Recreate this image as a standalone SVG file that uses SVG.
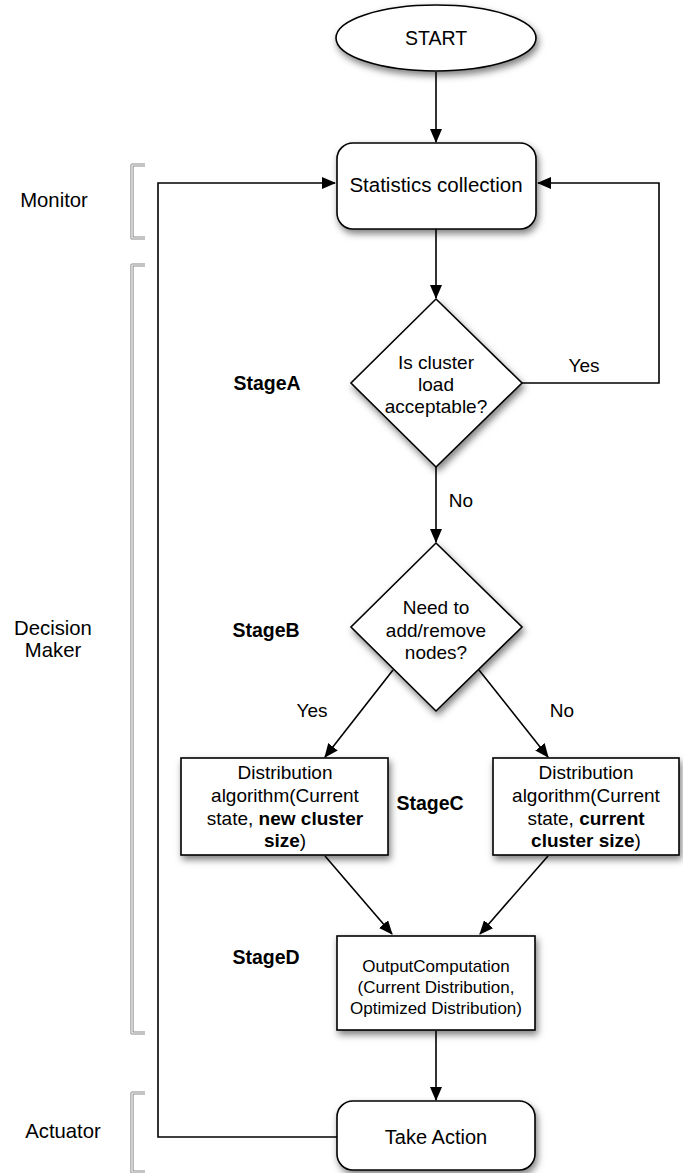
<svg xmlns="http://www.w3.org/2000/svg" width="683" height="1173" viewBox="0 0 683 1173">
<style>
text{font-family:"Liberation Sans",Arial,sans-serif;font-size:19px;fill:#000;text-anchor:middle}
.b{font-weight:bold}
.stage{font-weight:bold;font-size:19.5px}
.side{font-size:20.3px}
.small{font-size:17px}
.big{font-size:20.5px}
.node{fill:#fff;stroke:#000;stroke-width:1.6;filter:url(#sh)}
.edge{fill:none;stroke:#000;stroke-width:1.6}
.arr{marker-end:url(#ah)}
.brk-o{fill:none;stroke:#888;stroke-width:3.2;stroke-linejoin:round}
.brk-i{fill:none;stroke:#fff;stroke-width:1.2}
</style>
<defs>
<filter id="sh" x="-20%" y="-20%" width="150%" height="160%">
<feDropShadow dx="2" dy="4" stdDeviation="3.5" flood-color="#000" flood-opacity="0.5"/>
</filter>
<marker id="ah" markerUnits="userSpaceOnUse" markerWidth="14" markerHeight="12" refX="13" refY="6" orient="auto">
<path d="M0,0 L14,6 L0,12 Z" fill="#000"/>
</marker>
</defs>
<rect width="683" height="1173" fill="#fff"/>

<g id="brackets">
<path class="brk-o" d="M145,165 H132 V238 H145"/>
<path class="brk-i" d="M145,165 H132 V238 H145"/>
<path class="brk-o" d="M145,265 H132 V1033 H145"/>
<path class="brk-i" d="M145,265 H132 V1033 H145"/>
<path class="brk-o" d="M145,1093 H132 V1172 H145"/>
<path class="brk-i" d="M145,1093 H132 V1172 H145"/>
</g>

<g id="side-labels">
<text class="side" x="54" y="207">Monitor</text>
<text class="side" x="53" y="635">Decision</text>
<text class="side" x="53" y="657">Maker</text>
<text class="side" x="63" y="1138">Actuator</text>
<text class="stage" x="267" y="390">StageA</text>
<text class="stage" x="266" y="637">StageB</text>
<text class="stage" x="430" y="810">StageC</text>
<text class="stage" x="266" y="964">StageD</text>
</g>

<g id="connectors">
<line class="edge arr" x1="436" y1="72" x2="436" y2="142"/>
<line class="edge arr" x1="436" y1="229" x2="436" y2="298"/>
<polyline class="edge arr" points="522,383 659,383 659,183 538,183"/>
<line class="edge arr" x1="436" y1="467" x2="436" y2="542"/>
<line class="edge arr" x1="393" y1="670" x2="325" y2="757"/>
<line class="edge arr" x1="479" y1="670" x2="548" y2="757"/>
<line class="edge arr" x1="325" y1="856" x2="392" y2="934"/>
<line class="edge arr" x1="548" y1="856" x2="480" y2="934"/>
<line class="edge arr" x1="436" y1="1031" x2="436" y2="1100"/>
<polyline class="edge arr" points="337,1137 158,1137 158,183 335,183"/>
<text x="584" y="372">Yes</text>
<text x="461" y="507">No</text>
<text x="312" y="717">Yes</text>
<text x="562" y="717">No</text>
</g>

<g id="start">
<ellipse class="node" cx="436" cy="38" rx="100" ry="33"/>
<text x="436" y="45" style="font-size:19.5px">START</text>
</g>

<g id="stats">
<rect class="node" x="337" y="143" width="199" height="86" rx="16"/>
<text class="big" x="436" y="192">Statistics collection</text>
</g>

<g id="decisionA">
<polygon class="node" points="436,299 522,383 436,467 351,383"/>
<text x="436" y="369">Is cluster</text>
<text x="436" y="391">load</text>
<text x="436" y="413">acceptable?</text>
</g>

<g id="decisionB">
<polygon class="node" points="436,543 522,627 436,711 351,627"/>
<text x="436" y="614">Need to</text>
<text x="436" y="637">add/remove</text>
<text x="436" y="659">nodes?</text>
</g>

<g id="distLeft">
<rect class="node" x="181" y="758" width="207" height="97"/>
<text x="285" y="779">Distribution</text>
<text x="285" y="802">algorithm(Current</text>
<text x="285" y="825">state, <tspan class="b">new cluster</tspan></text>
<text x="285" y="847"><tspan class="b">size</tspan>)</text>
</g>

<g id="distRight">
<rect class="node" x="493" y="758" width="186" height="97"/>
<text x="586" y="779">Distribution</text>
<text x="586" y="802">algorithm(Current</text>
<text x="586" y="825">state, <tspan class="b">current</tspan></text>
<text x="586" y="847"><tspan class="b">cluster size</tspan>)</text>
</g>

<g id="output">
<rect class="node" x="337" y="936" width="198" height="94"/>
<text class="small" x="436" y="972">OutputComputation</text>
<text class="small" x="436" y="993">(Current Distribution,</text>
<text class="small" x="436" y="1014">Optimized Distribution)</text>
</g>

<g id="takeAction">
<rect class="node" x="337" y="1101" width="198" height="69" rx="16"/>
<text x="436" y="1144" style="font-size:20px">Take Action</text>
</g>
</svg>
